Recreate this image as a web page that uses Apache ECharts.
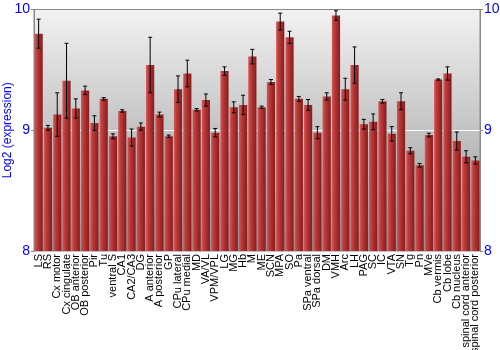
<!DOCTYPE html>
<html>
<head>
<meta charset="utf-8">
<script src="https://cdn.jsdelivr.net/npm/echarts@6/dist/echarts.min.js"></script>
<style>
  html, body { margin: 0; padding: 0; background: #fff; }
  #chart { width: 500px; height: 350px; }
</style>
</head>
<body>
<div id="chart"></div>
<script>
  // brain regions
  var regions = ['LS', 'RS', 'Cx motor', 'Cx cingulate', 'OB anterior', 'OB posterior', 'Pir', 'Tu',
    'ventral S', 'CA1', 'CA2/CA3', 'DG', 'A anterior', 'A posterior', 'GP', 'CPu lateral', 'CPu medial',
    'MD', 'VA/VL', 'VPM/VPL', 'LG', 'MG', 'Hb', 'M', 'ME', 'SCN', 'MPA', 'SO', 'Pa', 'SPa ventral',
    'SPa dorsal', 'DM', 'VMH', 'Arc', 'LH', 'PAG', 'SC', 'IC', 'VTA', 'SN', 'Tg', 'Pn', 'MVe',
    'Cb vermis', 'Cb lobe', 'Cb nucleus', 'spinal cord anterior', 'spinal cord posterior'];
  // mean log2 expression
  var means = [9.80, 9.02, 9.13, 9.41, 9.18, 9.33, 9.06, 9.26,
    8.95, 9.16, 8.94, 9.03, 9.54, 9.13, 8.95, 9.34, 9.47,
    9.17, 9.25, 8.98, 9.49, 9.19, 9.21, 9.61, 9.19, 9.40, 9.90, 9.77, 9.26, 9.21,
    8.98, 9.28, 9.95, 9.34, 9.54, 9.05, 9.07, 9.24, 8.97, 9.24, 8.83, 8.71, 8.96,
    9.42, 9.47, 8.91, 8.78, 8.75];
  // error (+/-)
  var errs = [0.12, 0.02, 0.18, 0.31, 0.08, 0.035, 0.06, 0.01,
    0.02, 0.01, 0.07, 0.03, 0.23, 0.02, 0.01, 0.11, 0.11,
    0.01, 0.05, 0.035, 0.035, 0.045, 0.08, 0.06, 0.01, 0.02, 0.07, 0.05, 0.02, 0.045,
    0.05, 0.03, 0.04, 0.09, 0.15, 0.04, 0.065, 0.015, 0.06, 0.07, 0.025, 0.015, 0.015,
    0.005, 0.055, 0.075, 0.05, 0.03];
  var yTicks = [8, 9, 10];

  var errData = means.map(function (m, i) {
    return [i, m - errs[i], m + errs[i]];
  });

  var myChart = echarts.init(document.getElementById('chart'));
  var font = 'Liberation Sans, Arial, sans-serif';

  myChart.setOption({
    animation: false,
    grid: {
      left: 34, right: 20, top: 9.5, bottom: 99,
      outerBoundsMode: 'none',
      containLabel: false,
      show: true,
      borderColor: '#888',
      borderWidth: 1,
      backgroundColor: new echarts.graphic.LinearGradient(0, 0, 0, 1, [
        {offset: 0, color: '#f2f2f2'},
        {offset: 1, color: '#949494'}
      ])
    },
    xAxis: {
      type: 'category',
      data: regions,
      axisLine: {show: false},
      axisTick: {show: false},
      axisLabel: {
        rotate: 90, interval: 0, margin: 3,
        color: '#000', fontFamily: font, fontSize: 11
      }
    },
    yAxis: [
      {
        type: 'value', min: yTicks[0], max: yTicks[2], interval: 1,
        name: 'Log2 (expression)', nameLocation: 'middle', nameGap: 20,
        nameMoveOverlap: false,
        nameTextStyle: {color: '#0000ff', fontFamily: font, fontSize: 12},
        axisLine: {show: true, lineStyle: {color: '#888'}},
        axisTick: {show: true, length: 3, lineStyle: {color: '#888'}},
        axisLabel: {color: '#0000ff', fontFamily: font, fontSize: 14, margin: 4},
        splitLine: {show: true, lineStyle: {color: ['transparent', '#ffffff', 'transparent'], width: 1}}
      },
      {
        type: 'value', min: yTicks[0], max: yTicks[2], interval: 1, position: 'right',
        axisLine: {show: true, lineStyle: {color: '#888'}},
        axisTick: {show: true, length: 3, lineStyle: {color: '#888'}},
        axisLabel: {color: '#0000ff', fontFamily: font, fontSize: 14, margin: 4},
        splitLine: {show: false}
      }
    ],
    series: [
      {
        type: 'bar',
        data: means,
        barCategoryGap: '12%',
        itemStyle: {
          color: new echarts.graphic.LinearGradient(0, 0, 1, 0, [
            {offset: 0, color: '#d25a5a'},
            {offset: 0.3, color: '#bd3a3a'},
            {offset: 1, color: '#861c1c'}
          ])
        }
      },
      {
        // error bars
        type: 'custom',
        data: errData,
        z: 5,
        renderItem: function (params, api) {
          var x = api.value(0);
          var lo = api.coord([x, api.value(1)]);
          var hi = api.coord([x, api.value(2)]);
          var w = 2;
          var style = {stroke: '#000', lineWidth: 1};
          return {
            type: 'group',
            children: [
              {type: 'line', shape: {x1: lo[0], y1: lo[1], x2: hi[0], y2: hi[1]}, style: style},
              {type: 'line', shape: {x1: lo[0] - w, y1: lo[1], x2: lo[0] + w, y2: lo[1]}, style: style},
              {type: 'line', shape: {x1: hi[0] - w, y1: hi[1], x2: hi[0] + w, y2: hi[1]}, style: style}
            ]
          };
        }
      }
    ]
  });
</script>
</body>
</html>
